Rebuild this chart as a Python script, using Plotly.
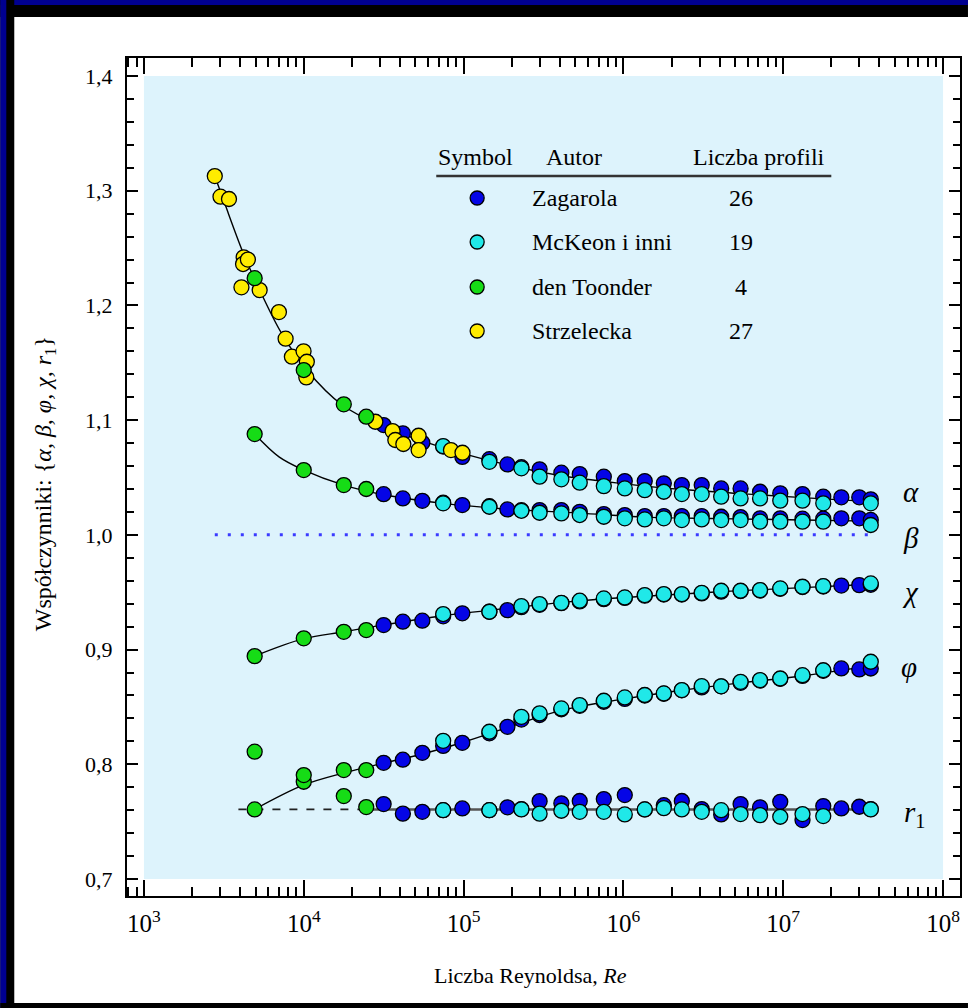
import plotly.graph_objects as go

# ---------------- data ----------------
# Zagarola (26 profiles)
re_zag = [31.6e3, 41.7e3, 55.2e3, 74.5e3, 98.2e3, 145e3, 188e3, 230e3, 299e3, 409e3, 533e3, 754e3,
          1.02e6, 1.36e6, 1.79e6, 2.32e6, 3.09e6, 4.09e6, 5.41e6, 7.16e6, 9.58e6, 13.2e6, 17.8e6,
          23.1e6, 29.9e6, 35.3e6]
zag_alpha = [1.0957, 1.0885, 1.0803, 1.077, 1.068, 1.066, 1.0614, 1.059, 1.0571, 1.0542, 1.053, 1.0507,
             1.0469, 1.0469, 1.0449, 1.0434, 1.0434, 1.0405, 1.0405, 1.0376, 1.0362, 1.0356, 1.0333,
             1.0327, 1.0327, 1.031]
zag_beta = [1.0355, 1.0318, 1.0297, 1.028, 1.026, 1.025, 1.0222, 1.0215, 1.0216, 1.0216, 1.0201, 1.0181,
            1.0173, 1.0164, 1.0164, 1.0164, 1.0164, 1.0158, 1.0155, 1.0144, 1.0144, 1.0141, 1.0141,
            1.0144, 1.0144, 1.013]
zag_chi = [0.9214, 0.9243, 0.9252, 0.929, 0.9316, 0.933, 0.9344, 0.937, 0.939, 0.9405, 0.942, 0.944,
           0.945, 0.947, 0.948, 0.948, 0.949, 0.9505, 0.951, 0.9515, 0.953, 0.9545, 0.955,
           0.9558, 0.9562, 0.9565]
zag_phi = [0.8013, 0.804, 0.810, 0.816, 0.8187, 0.827, 0.8327, 0.839, 0.843, 0.848, 0.851, 0.8545,
           0.857, 0.860, 0.8615, 0.8645, 0.867, 0.868, 0.871, 0.873, 0.8745, 0.877, 0.8815,
           0.8836, 0.8827, 0.8835]
zag_r1 = [0.7653, 0.757, 0.7586, 0.760, 0.7615, 0.760, 0.7625, 0.761, 0.7679, 0.766, 0.768, 0.7697,
          0.7732, 0.7607, 0.7644, 0.768, 0.761, 0.7563, 0.7653, 0.7625, 0.7673, 0.7514, 0.7636,
          0.7615, 0.763, 0.761]

# McKeon i inni (19 profiles)
re_mck = [74.5e3, 145e3, 230e3, 299e3, 409e3, 533e3, 754e3, 1.02e6, 1.36e6, 1.79e6, 2.32e6, 3.09e6,
          4.09e6, 5.41e6, 7.16e6, 9.58e6, 13.2e6, 17.8e6, 35.3e6]
mck_alpha = [1.0774, 1.0637, 1.058, 1.0507, 1.0484, 1.0455, 1.0425, 1.0405, 1.039, 1.0376, 1.0356,
             1.0356, 1.0333, 1.0318, 1.0318, 1.0298, 1.0298, 1.0275, 1.0275]
mck_beta = [1.0275, 1.0245, 1.021, 1.0193, 1.0187, 1.0173, 1.0158, 1.0144, 1.0135, 1.0144, 1.0129,
            1.0135, 1.0129, 1.0129, 1.0115, 1.0115, 1.0115, 1.0115, 1.0086]
mck_chi = [0.931, 0.933, 0.9379, 0.9397, 0.9408, 0.9426, 0.9446, 0.9455, 0.9475, 0.9484, 0.9484,
           0.9495, 0.9513, 0.9513, 0.9519, 0.9533, 0.9548, 0.9554, 0.9577]
mck_phi = [0.8205, 0.8284, 0.8414, 0.8444, 0.8487, 0.8516, 0.8554, 0.8583, 0.8604, 0.8618, 0.8647,
           0.8682, 0.868, 0.8719, 0.8734, 0.8748, 0.8777, 0.882, 0.8894]
mck_r1 = [0.760, 0.760, 0.7607, 0.757, 0.7595, 0.7586, 0.7586, 0.7563, 0.7607, 0.7618, 0.7607,
          0.7586, 0.760, 0.7566, 0.7557, 0.7543, 0.7566, 0.7549, 0.7607]

# den Toonder (4 profiles)
re_dt = [4930, 10000, 17800, 24600]
dt_alpha = [1.2238, 1.1437, 1.1138, 1.103]
dt_beta = [1.0879, 1.0565, 1.0434, 1.040]
dt_chi = [0.8943, 0.9098, 0.9155, 0.917]
dt_phi = [0.7607, 0.7848, 0.795, 0.795]
dt_r1 = [0.811, 0.7906, 0.7723, 0.7627]

# Strzelecka (alpha only)
re_str = [2775, 3013, 3405, 4207, 4169, 4074, 4470, 5297, 6993, 7697, 8428, 9970, 10450, 10370,
          28050, 35970, 37400, 41980, 52300, 52300, 83370, 98440]
str_alpha = [1.3128, 1.2948, 1.2928, 1.2419, 1.2361, 1.2158, 1.240, 1.2134, 1.1942, 1.1710, 1.1553,
             1.1600, 1.1509, 1.1373, 1.0986, 1.0905, 1.0827, 1.0792, 1.0864, 1.0739, 1.0739, 1.0716]

# fitted curves
fit_alpha_re = [2775, 3200, 4200, 5300, 7240, 10400, 17500, 31000, 52000, 98000, 188e3, 409e3,
                1.02e6, 2.32e6, 5.41e6, 13.2e6, 35.3e6]
fit_alpha = [1.3128, 1.289, 1.245, 1.2134, 1.176, 1.144, 1.113, 1.0947, 1.083, 1.071, 1.061, 1.0515,
             1.0445, 1.0395, 1.036, 1.0325, 1.029]
fit_beta_re = [4930, 7000, 10000, 17800, 31.6e3, 74.5e3, 188e3, 533e3, 1.36e6, 4.09e6, 13.2e6, 35.3e6]
fit_beta = [1.0879, 1.068, 1.0565, 1.0434, 1.035, 1.0275, 1.0225, 1.019, 1.0155, 1.0142, 1.013, 1.012]
fit_chi_re = [4930, 10000, 17800, 31.6e3, 74.5e3, 188e3, 533e3, 1.36e6, 4.09e6, 13.2e6, 35.3e6]
fit_chi = [0.8943, 0.9095, 0.9155, 0.9215, 0.9295, 0.936, 0.9425, 0.9465, 0.9505, 0.954, 0.957]
fit_phi_re = [4930, 10000, 17800, 31.6e3, 55.2e3, 98.2e3, 188e3, 409e3, 1.02e6, 2.32e6, 5.41e6,
              13.2e6, 35.3e6]
fit_phi = [0.7607, 0.782, 0.7925, 0.801, 0.809, 0.819, 0.832, 0.847, 0.857, 0.8645, 0.871, 0.877, 0.886]
r1_dash_re = [3900, 24600]
r1_solid_re = [24600, 35.3e6]
r1_level = 0.7607
unity_re = [2775, 35.3e6]
unity_level = 1.0

x_ticks = [1e3, 1e4, 1e5, 1e6, 1e7, 1e8]
x_ticktext = ["10<sup>3</sup>", "10<sup>4</sup>", "10<sup>5</sup>", "10<sup>6</sup>",
              "10<sup>7</sup>", "10<sup>8</sup>"]
y_ticks = [0.7, 0.8, 0.9, 1.0, 1.1, 1.2, 1.3, 1.4]
y_ticktext = ["0,7", "0,8", "0,9", "1,0", "1,1", "1,2", "1,3", "1,4"]

legend_authors = ["Zagarola", "McKeon i inni", "den Toonder", "Strzelecka"]
legend_counts = ["26", "19", "4", "27"]

# ---------------- styling ----------------
C_BLUE = "#0505e6"
C_CYAN = "#20e8e8"
C_GREEN = "#16dc16"
C_YELLOW = "#ffec00"
BG = "#ddf3fc"
FONT = "Liberation Serif"

W, H = 970, 1008
L, R, T, B = 127, 962, 58, 896
XR = [2.894, 8.106]
YR = [0.6852, 1.4157]


def px(x):
    return (x - L) / (R - L)


def py(y):
    return (B - y) / (B - T)


fig = go.Figure()

line_black = dict(color="black", width=1.4)
fig.add_trace(go.Scatter(x=unity_re, y=[unity_level] * len(unity_re), mode="lines",
                         line=dict(color="#3a3aff", width=3, dash="3px,10px"), hoverinfo="skip"))
fig.add_trace(go.Scatter(x=fit_alpha_re, y=fit_alpha, mode="lines", line_shape="spline",
                         line=line_black, hoverinfo="skip"))
fig.add_trace(go.Scatter(x=fit_beta_re, y=fit_beta, mode="lines", line_shape="spline",
                         line=line_black, hoverinfo="skip"))
fig.add_trace(go.Scatter(x=fit_chi_re, y=fit_chi, mode="lines", line_shape="spline",
                         line=line_black, hoverinfo="skip"))
fig.add_trace(go.Scatter(x=fit_phi_re, y=fit_phi, mode="lines", line_shape="spline",
                         line=line_black, hoverinfo="skip"))
fig.add_trace(go.Scatter(x=r1_dash_re, y=[r1_level] * 2, mode="lines",
                         line=dict(color="#222", width=1.6, dash="8px,9px"), hoverinfo="skip"))
fig.add_trace(go.Scatter(x=r1_solid_re, y=[r1_level] * 2, mode="lines",
                         line=dict(color="#555", width=2.5), hoverinfo="skip"))


def add_pts(xs, ys, color):
    fig.add_trace(go.Scatter(x=xs, y=ys, mode="markers",
                             marker=dict(size=15, color=color, line=dict(color="black", width=1.3)),
                             hoverinfo="skip"))


zx = re_zag * 5
zy = zag_alpha + zag_beta + zag_chi + zag_phi + zag_r1
add_pts(zx, zy, C_BLUE)
mx = re_mck * 5
my = mck_alpha + mck_beta + mck_chi + mck_phi + mck_r1
add_pts(mx, my, C_CYAN)
add_pts(re_str, str_alpha, C_YELLOW)
dx = re_dt * 5
dy = dt_alpha + dt_beta + dt_chi + dt_phi + dt_r1
add_pts(dx, dy, C_GREEN)

shapes = []
# light blue data region (1e3..1e8, 0.7..1.4)
bx0 = (3 - XR[0]) / (XR[1] - XR[0])
bx1 = (8 - XR[0]) / (XR[1] - XR[0])
by0 = (0.7 - YR[0]) / (YR[1] - YR[0])
by1 = (1.4 - YR[0]) / (YR[1] - YR[0])
shapes.append(dict(type="rect", xref="paper", yref="paper", x0=bx0, x1=bx1, y0=by0, y1=by1,
                   fillcolor=BG, line_width=0, layer="below"))
# outer border of the picture
shapes.append(dict(type="rect", xref="paper", yref="paper", x0=px(0), x1=px(W), y0=py(0), y1=py(17),
                   fillcolor="black", line_width=0, layer="above"))
shapes.append(dict(type="rect", xref="paper", yref="paper", x0=px(0), x1=px(W), y0=py(0), y1=py(5),
                   fillcolor="#000090", line_width=0, layer="above"))
shapes.append(dict(type="rect", xref="paper", yref="paper", x0=px(0), x1=px(14), y0=py(0), y1=py(H),
                   fillcolor="black", line_width=0, layer="above"))
shapes.append(dict(type="rect", xref="paper", yref="paper", x0=px(0), x1=px(6), y0=py(0), y1=py(H),
                   fillcolor="#000090", line_width=0, layer="above"))
shapes.append(dict(type="rect", xref="paper", yref="paper", x0=px(0), x1=px(W), y0=py(1003), y1=py(H),
                   fillcolor="black", line_width=0, layer="above"))
# legend table rule
shapes.append(dict(type="line", xref="paper", yref="paper", x0=px(437), x1=px(833), y0=py(176),
                   y1=py(176), line=dict(color="#333", width=2.5)))
legend_cols = [C_BLUE, C_CYAN, C_GREEN, C_YELLOW]
row_y = [198, 242, 287, 331]
for c, yy in zip(legend_cols, row_y):
    shapes.append(dict(type="circle", xref="paper", yref="paper", xsizemode="pixel", ysizemode="pixel",
                       xanchor=px(478), yanchor=py(yy), x0=-7, x1=7, y0=-7, y1=7,
                       fillcolor=c, line=dict(color="black", width=1.3)))

ann = []
tf = dict(family=FONT, size=24, color="black")
ann.append(dict(text="Symbol", x=px(437), y=py(157), xanchor="left", yanchor="middle", font=tf))
ann.append(dict(text="Autor", x=px(545), y=py(157), xanchor="left", yanchor="middle", font=tf))
ann.append(dict(text="Liczba profili", x=px(692), y=py(157), xanchor="left", yanchor="middle", font=tf))
for name, cnt, yy in zip(legend_authors, legend_counts, row_y):
    ann.append(dict(text=name, x=px(531), y=py(yy), xanchor="left", yanchor="middle", font=tf))
    ann.append(dict(text=cnt, x=px(742), y=py(yy), xanchor="center", yanchor="middle", font=tf))

gf = dict(family=FONT, size=29, color="black")
for txt, xx, yy in [("<i>α</i>", 913, 492), ("<i>β</i>", 913, 538), ("<i>χ</i>", 912, 592),
                    ("<i>φ</i>", 911, 667), ("<i>r</i><sub>1</sub>", 916, 814)]:
    ann.append(dict(text=txt, x=px(xx), y=py(yy), xanchor="center", yanchor="middle", font=gf))

ann.append(dict(text="Współczynniki: {<i>α, β, φ, χ, r</i><sub>1</sub>}", x=px(45), y=py(484),
                textangle=-90, xanchor="center", yanchor="middle",
                font=dict(family=FONT, size=24, color="black")))
ann.append(dict(text="Liczba Reynoldsa, <i>Re</i>", x=px(531), y=py(975), xanchor="center",
                yanchor="middle", font=dict(family=FONT, size=22, color="black")))
for a in ann:
    a.update(xref="paper", yref="paper", showarrow=False)

minor_x = [m * 10 ** e for e in range(2, 9) for m in range(2, 10)]

fig.update_layout(
    width=W, height=H,
    margin=dict(l=L, r=W - R, t=T, b=H - B, pad=0),
    paper_bgcolor="white", plot_bgcolor="white",
    showlegend=False,
    shapes=shapes, annotations=ann,
    xaxis=dict(type="log", range=XR, showgrid=False, zeroline=False,
               showline=True, linecolor="black", linewidth=2, mirror="allticks",
               ticks="inside", ticklen=16, tickwidth=1.5, tickcolor="black",
               tickmode="array", tickvals=x_ticks, ticktext=x_ticktext,
               tickfont=dict(family=FONT, size=25, color="black"), ticklabelstandoff=4,
               minor=dict(ticks="inside", ticklen=9, tickwidth=1.5, tickcolor="black",
                          tickmode="array", tickvals=minor_x, showgrid=False)),
    yaxis=dict(range=YR, showgrid=False, zeroline=False,
               showline=True, linecolor="black", linewidth=2, mirror="allticks",
               ticks="inside", ticklen=11, tickwidth=1.5, tickcolor="black",
               tickmode="array", tickvals=y_ticks, ticktext=y_ticktext,
               tickfont=dict(family=FONT, size=22, color="black"), ticklabelstandoff=8,
               minor=dict(ticks="inside", ticklen=7, tickwidth=1.5, tickcolor="black",
                          dtick=0.02, tick0=0.7, showgrid=False)),
)

fig.write_html("out.html")
